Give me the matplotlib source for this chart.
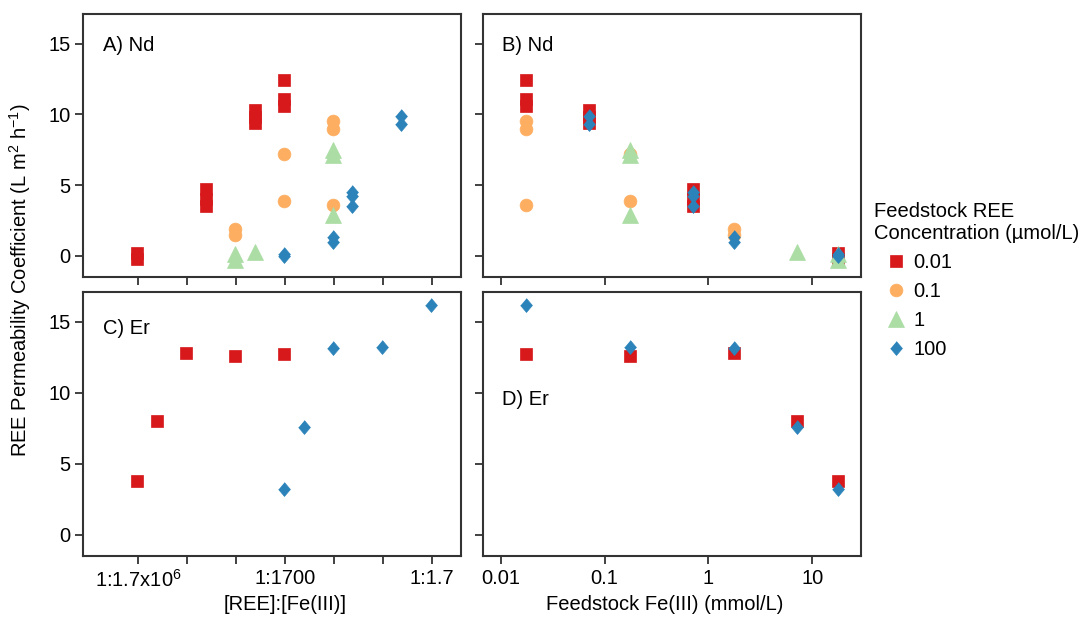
import matplotlib
matplotlib.use("Agg")
import matplotlib.pyplot as plt
from matplotlib.ticker import FixedLocator, FixedFormatter, NullLocator

plt.rcParams['font.family'] = ['Liberation Sans', 'DejaVu Sans']
plt.rcParams['mathtext.fontset'] = 'custom'
plt.rcParams['mathtext.rm'] = 'Liberation Sans'
plt.rcParams['mathtext.it'] = 'Liberation Sans:italic'
plt.rcParams['font.size'] = 14.5

# ---------------- data ----------------
conc_labels = ['0.01', '0.1', '1', '100']
colors = ['#d7191c', '#fdae61', '#abdda4', '#2b83ba']

# Nd: feedstock Fe(III) (mmol/L), [REE]:[Fe(III)] denominator, permeability coefficient
nd_red_fe = [0.0177, 0.0177, 0.0177, 0.071, 0.071, 0.071, 0.71, 0.71, 0.71, 17.7, 17.7]
nd_red_ratio = [1770, 1770, 1770, 7100, 7100, 7100, 71000, 71000, 71000, 1.77e6, 1.77e6]
nd_red_perm = [12.4, 11.1, 10.6, 10.3, 9.8, 9.4, 4.7, 4.0, 3.5, 0.2, -0.2]

nd_orange_fe = [0.0177, 0.0177, 0.0177, 0.177, 0.177, 1.77, 1.77]
nd_orange_ratio = [177, 177, 177, 1770, 1770, 17700, 17700]
nd_orange_perm = [9.5, 9.0, 3.6, 7.2, 3.9, 1.9, 1.5]

nd_green_fe = [0.177, 0.177, 0.177, 7.1, 17.7, 17.7]
nd_green_ratio = [177, 177, 177, 7100, 17700, 17700]
nd_green_perm = [7.5, 7.1, 2.9, 0.3, 0.1, -0.3]

nd_blue_fe = [0.071, 0.071, 0.71, 0.71, 0.71, 1.77, 1.77, 17.7, 17.7]
nd_blue_ratio = [7.1, 7.1, 71, 71, 71, 177, 177, 1770, 1770]
nd_blue_perm = [9.9, 9.3, 4.5, 4.2, 3.5, 1.3, 1.0, 0.1, 0.0]

# Er
er_red_fe = [0.0177, 0.177, 1.77, 7.1, 17.7]
er_red_ratio = [1770, 17700, 177000, 710000, 1.77e6]
er_red_perm = [12.7, 12.6, 12.8, 8.0, 3.8]

er_blue_fe = [0.0177, 0.177, 1.77, 7.1, 17.7]
er_blue_ratio = [1.77, 17.7, 177, 710, 1770]
er_blue_perm = [16.2, 13.2, 13.15, 7.6, 3.2]

ratio_ticks = [1.7e6, 1.7e5, 1.7e4, 1.7e3, 1.7e2, 1.7e1, 1.7]
ratio_ticklabels = ['1:1.7x10$^{6}$', '', '', '1:1700', '', '', '1:1.7']
fe_ticks = [0.01, 0.1, 1, 10]
fe_ticklabels = ['0.01', '0.1', '1', '10']
y_ticks = [0, 5, 10, 15]

# ---------------- styling ----------------
markers = {
    '0.01': dict(marker='s', ms=8.6),
    '0.1': dict(marker='o', ms=9.2),
    '1': dict(marker='^', ms=11.5),
    '100': dict(marker=[(0, 1), (0.85, 0), (0, -1), (-0.85, 0)], ms=10),
}
frame_col = '#333333'

W, H = 1084, 618
fig = plt.figure(figsize=(W / 100, H / 100), dpi=100)


def px_axes(x0, y0, x1, y1):
    return fig.add_axes([x0 / W, 1 - y1 / H, (x1 - x0) / W, (y1 - y0) / H])


axA = px_axes(83, 14, 461, 277)
axB = px_axes(483, 14, 861, 277)
axC = px_axes(83, 292, 461, 556)
axD = px_axes(483, 292, 861, 556)


def plot_series(ax, xs, ys, key):
    i = conc_labels.index(key)
    return ax.plot(xs, ys, linestyle='none', color=colors[i], mec=colors[i],
                   mew=0.5, label=key, **markers[key])[0]


# Panel A: Nd vs ratio
plot_series(axA, nd_red_ratio, nd_red_perm, '0.01')
plot_series(axA, nd_orange_ratio, nd_orange_perm, '0.1')
plot_series(axA, nd_green_ratio, nd_green_perm, '1')
plot_series(axA, nd_blue_ratio, nd_blue_perm, '100')
# Panel B: Nd vs Fe
h1 = plot_series(axB, nd_red_fe, nd_red_perm, '0.01')
h2 = plot_series(axB, nd_orange_fe, nd_orange_perm, '0.1')
h3 = plot_series(axB, nd_green_fe, nd_green_perm, '1')
h4 = plot_series(axB, nd_blue_fe, nd_blue_perm, '100')
# Panel C: Er vs ratio
plot_series(axC, er_red_ratio, er_red_perm, '0.01')
plot_series(axC, er_blue_ratio, er_blue_perm, '100')
# Panel D: Er vs Fe
plot_series(axD, er_red_fe, er_red_perm, '0.01')
plot_series(axD, er_blue_fe, er_blue_perm, '100')

for ax in (axA, axB, axC, axD):
    ax.set_ylim(-1.5, 17.1)
    ax.set_xscale('log')
    ax.yaxis.set_major_locator(FixedLocator(y_ticks))
    ax.xaxis.set_minor_locator(NullLocator())
    ax.yaxis.set_minor_locator(NullLocator())
    for sp in ax.spines.values():
        sp.set_color(frame_col)
        sp.set_linewidth(1.5)
    ax.tick_params(direction='out', length=6, width=1.3, color=frame_col,
                   labelsize=14.5, pad=3)

for ax in (axA, axC):
    ax.set_xlim(1.7e6 * 10 ** 1.131, 1.7 / 10 ** 0.599)
    ax.xaxis.set_major_locator(FixedLocator(ratio_ticks))
    ax.xaxis.set_major_formatter(FixedFormatter(ratio_ticklabels))
for ax in (axB, axD):
    ax.set_xlim(10 ** -2.17, 10 ** 1.468)
    ax.xaxis.set_major_locator(FixedLocator(fe_ticks))
    ax.xaxis.set_major_formatter(FixedFormatter(fe_ticklabels))

for ax in (axA, axB):
    ax.tick_params(axis='x', labelbottom=False)
for ax in (axB, axD):
    ax.tick_params(axis='y', labelleft=False)

axA.text(0.052, 0.882, 'A) Nd', transform=axA.transAxes, va='center', ha='left')
axB.text(0.049, 0.882, 'B) Nd', transform=axB.transAxes, va='center', ha='left')
axC.text(0.054, 0.86, 'C) Er', transform=axC.transAxes, va='center', ha='left')
axD.text(0.051, 0.591, 'D) Er', transform=axD.transAxes, va='center', ha='left')

axC.set_xlabel('[REE]:[Fe(III)]')
axC.xaxis.set_label_coords(0.534, -0.148)
axD.set_xlabel('Feedstock Fe(III) (mmol/L)')
axD.xaxis.set_label_coords(0.481, -0.148)

fig.text(20 / W, 1 - 280 / H, r'REE Permeability Coefficient (L m$^{2}$ h$^{-1}$)',
         rotation=90, ha='center', va='center')

fig.legend(handles=[h1, h2, h3, h4], labels=conc_labels,
           title='Feedstock REE\nConcentration (\u00b5mol/L)', title_fontsize=14.5,
           loc='upper left', bbox_to_anchor=(860 / W, 1 - 188 / H),
           frameon=False, alignment='left', handlelength=2.2,
           handletextpad=-0.25, labelspacing=0.5, borderpad=0.2, fontsize=14.5)

fig.savefig('out.png', dpi=100)
